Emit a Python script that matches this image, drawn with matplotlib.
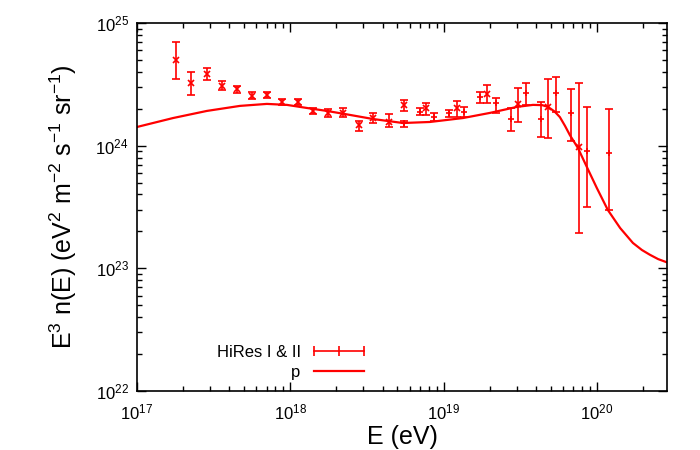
import numpy as np
import matplotlib.pyplot as plt
from matplotlib.lines import Line2D

plt.rcParams['font.family'] = ['Liberation Sans', 'DejaVu Sans']
plt.rcParams['mathtext.fontset'] = 'custom'
plt.rcParams['mathtext.rm'] = 'Liberation Sans'
plt.rcParams['mathtext.it'] = 'Liberation Sans:italic'

# HiRes points drawn with "x"
e_x = [1.80e17, 2.25e17, 2.86e17, 3.58e17, 4.49e17, 5.62e17, 7.04e17, 8.83e17,
       1.12e18, 1.41e18, 1.76e18, 2.21e18, 2.81e18, 3.46e18, 4.40e18, 5.52e18,
       7.68e18, 1.22e19, 1.92e19, 3.05e19, 4.80e19, 7.64e19]
f_x = [4.99e24, 3.24e24, 3.84e24, 3.07e24, 2.90e24, 2.54e24, 2.59e24, 2.27e24,
       2.27e24, 1.92e24, 1.85e24, 1.85e24, 1.48e24, 1.68e24, 1.56e24, 2.15e24,
       2.03e24, 2.03e24, 2.64e24, 2.19e24, 2.07e24, 9.76e23]
lo_x = [3.50e24, 2.59e24, 3.43e24, 2.85e24, 2.69e24, 2.40e24, 2.45e24, 2.15e24,
        2.15e24, 1.81e24, 1.71e24, 1.71e24, 1.32e24, 1.53e24, 1.42e24, 1.92e24,
        1.78e24, 1.71e24, 2.23e24, 1.56e24, 1.16e24, 1.95e23]
hi_x = [7.00e24, 3.99e24, 4.30e24, 3.37e24, 3.07e24, 2.74e24, 2.74e24, 2.40e24,
        2.40e24, 2.03e24, 1.99e24, 2.03e24, 1.59e24, 1.85e24, 1.81e24, 2.36e24,
        2.23e24, 2.31e24, 3.12e24, 2.95e24, 3.50e24, 3.24e24]

# HiRes points drawn with "+"
e_p = [5.52e18, 7.02e18, 8.65e18, 1.08e19, 1.36e19, 1.73e19, 2.20e19,
       2.75e19, 3.45e19, 4.32e19, 5.41e19, 6.78e19, 8.61e19, 1.20e20]
f_p = [1.53e24, 1.88e24, 1.71e24, 1.85e24, 1.88e24, 2.49e24, 2.23e24,
       1.65e24, 2.69e24, 1.65e24, 2.69e24, 1.85e24, 9.06e23, 8.73e23]
lo_p = [1.42e24, 1.78e24, 1.59e24, 1.71e24, 1.71e24, 2.23e24, 1.85e24,
        1.32e24, 2.15e24, 1.18e24, 1.88e24, 1.09e24, 3.16e23, 2.99e23]
hi_p = [1.59e24, 2.03e24, 1.85e24, 1.95e24, 2.07e24, 2.74e24, 2.45e24,
        2.03e24, 3.24e24, 2.27e24, 3.63e24, 2.90e24, 2.07e24, 1.99e24]

# proton model curve
e_m = [1.00e17, 1.72e17, 2.86e17, 4.70e17, 7.04e17, 9.51e17, 1.28e18, 1.73e18,
       2.28e18, 3.46e18, 5.43e18, 8.15e18, 1.34e19, 2.01e19, 3.01e19, 3.83e19,
       4.40e19, 4.80e19, 5.30e19, 5.74e19, 6.20e19, 6.67e19, 7.53e19, 8.61e19,
       1.00e20, 1.18e20, 1.42e20, 1.72e20, 1.97e20, 2.22e20, 2.51e20, 2.86e20]
f_m = [1.42e24, 1.68e24, 1.92e24, 2.11e24, 2.19e24, 2.15e24, 2.03e24, 1.92e24,
       1.81e24, 1.65e24, 1.53e24, 1.56e24, 1.68e24, 1.85e24, 2.07e24, 2.15e24,
       2.14e24, 2.07e24, 1.90e24, 1.71e24, 1.45e24, 1.22e24, 9.57e23, 6.70e23,
       4.52e23, 2.99e23, 2.13e23, 1.61e23, 1.41e23, 1.29e23, 1.19e23, 1.12e23]

red = '#ff0000'
fig = plt.figure(figsize=(7, 4.5), dpi=100)
ax = fig.add_axes([137/700, 59/450, 530/700, 368/450])

f_x = np.array(f_x); f_p = np.array(f_p)
ax.errorbar(e_x, f_x, yerr=[f_x - np.array(lo_x), np.array(hi_x) - f_x],
            fmt='x', color=red, ms=5, mew=1.2, elinewidth=1.2, capsize=2.8, capthick=1.2)
ax.errorbar(e_p, f_p, yerr=[f_p - np.array(lo_p), np.array(hi_p) - f_p],
            fmt='+', color=red, ms=5, mew=1.2, elinewidth=1.2, capsize=2.8, capthick=1.2)
ax.plot(e_m, f_m, color=red, lw=1.6)

ax.set_xscale('log')
ax.set_yscale('log')
ax.set_xlim(1e17, 2.87e20)
ax.set_ylim(1e22, 1e25)

ax.tick_params(which='both', direction='in', top=True, right=True, labelsize=12)
ax.tick_params(which='major', length=6.5, width=1)
ax.tick_params(which='minor', length=3.5, width=1)
ax.tick_params(axis='x', pad=8)
ax.tick_params(axis='y', pad=6)
for s in ax.spines.values():
    s.set_linewidth(1.2)

ax.set_xlabel('E (eV)', fontsize=18, labelpad=2)
ax.set_ylabel('E$^3$ n(E) (eV$^2$ m$^{-2}$ s$^{-1}$ sr$^{-1}$)', fontsize=18, labelpad=12)

h1 = Line2D([], [], color=red, lw=1.2, marker='|', ms=7, mew=1.2)
h2 = Line2D([], [], color=red, lw=1.6)
ax.legend([h1, h2], ['HiRes I & II', 'p'], loc='upper right', markerfirst=False,
          numpoints=3, frameon=False, fontsize=12, handlelength=3.6,
          handletextpad=0.5, labelspacing=0.3, borderpad=0, borderaxespad=0,
          bbox_to_anchor=(369/700, (450-345)/450), bbox_transform=fig.transFigure)

plt.savefig('out.png', dpi=100)
